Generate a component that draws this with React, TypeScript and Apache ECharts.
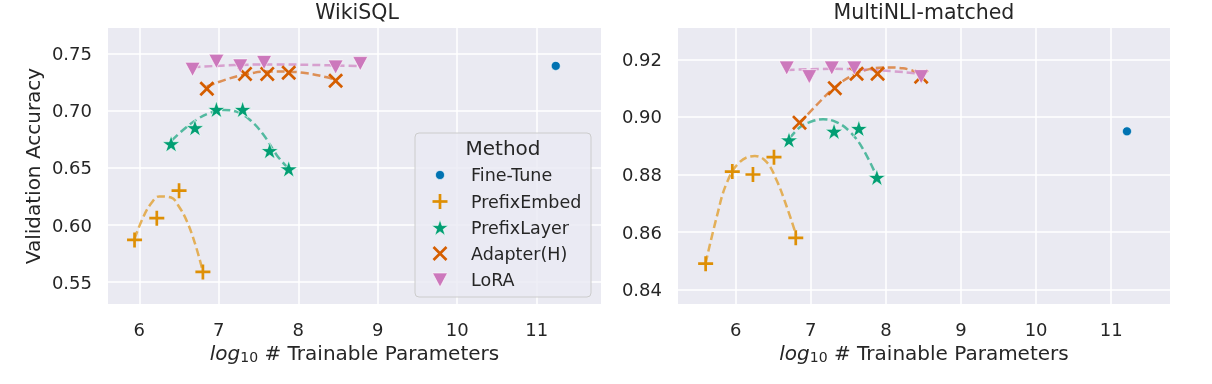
import React, { useEffect, useRef } from "react";
import * as echarts from "echarts";

// ---------- data (log10 #params, accuracy) ----------
const fineTuneWikiX = [11.24];
const fineTuneWikiY = [0.739];
const prefixEmbedWikiX = [5.94, 6.22, 6.5, 6.8];
const prefixEmbedWikiY = [0.587, 0.606, 0.63, 0.559];
const prefixLayerWikiX = [6.4, 6.7, 6.97, 7.3, 7.64, 7.88];
const prefixLayerWikiY = [0.671, 0.685, 0.701, 0.701, 0.665, 0.649];
const adapterWikiX = [6.85, 7.33, 7.61, 7.88, 8.47];
const adapterWikiY = [0.719, 0.732, 0.732, 0.733, 0.726];
const loraWikiX = [6.67, 6.97, 7.27, 7.57, 8.47, 8.78];
const loraWikiY = [0.736, 0.743, 0.739, 0.742, 0.738, 0.741];

const fineTuneMnliX = [11.21];
const fineTuneMnliY = [0.895];
const prefixEmbedMnliX = [5.6, 5.955, 6.23, 6.51, 6.8];
const prefixEmbedMnliY = [0.849, 0.881, 0.88, 0.886, 0.858];
const prefixLayerMnliX = [6.71, 7.31, 7.64, 7.88];
const prefixLayerMnliY = [0.892, 0.895, 0.896, 0.879];
const adapterMnliX = [6.85, 7.32, 7.61, 7.89, 8.47];
const adapterMnliY = [0.898, 0.91, 0.915, 0.915, 0.914];
const loraMnliX = [6.68, 6.98, 7.28, 7.58, 8.47];
const loraMnliY = [0.917, 0.914, 0.917, 0.917, 0.914];

// dashed trend curves
const fitPrefixEmbedWikiX = [5.94, 6.05, 6.15, 6.25, 6.4, 6.5, 6.6, 6.7, 6.79];
const fitPrefixEmbedWikiY = [0.588, 0.607, 0.619, 0.625, 0.624, 0.616, 0.603, 0.584, 0.562];
const fitPrefixLayerWikiX = [6.41, 6.55, 6.72, 6.89, 7.06, 7.22, 7.39, 7.56, 7.73, 7.87];
const fitPrefixLayerWikiY = [0.674, 0.683, 0.692, 0.698, 0.7005, 0.699, 0.692, 0.679, 0.661, 0.6497];
const fitAdapterWikiX = [6.85, 7.1, 7.35, 7.6, 7.85, 8.11, 8.36, 8.47];
const fitAdapterWikiY = [0.721, 0.7273, 0.7317, 0.734, 0.734, 0.7325, 0.729, 0.7267];
const fitLoraWikiX = [6.67, 7.2, 7.7, 8.2, 8.78];
const fitLoraWikiY = [0.7378, 0.7397, 0.7403, 0.7398, 0.7388];

const fitPrefixEmbedMnliX = [5.6, 5.748, 5.88, 6.057, 6.256, 6.41, 6.545, 6.68, 6.805];
const fitPrefixEmbedMnliY = [0.8492, 0.8653, 0.877, 0.8844, 0.8864, 0.8844, 0.878, 0.8688, 0.859];
const fitPrefixLayerMnliX = [6.72, 6.854, 6.987, 7.163, 7.34, 7.52, 7.69, 7.88];
const fitPrefixLayerMnliY = [0.8926, 0.8964, 0.8982, 0.8992, 0.8982, 0.8949, 0.8891, 0.8792];
const fitAdapterMnliX = [6.854, 7.076, 7.32, 7.56, 7.78, 8.0, 8.226, 8.47];
const fitAdapterMnliY = [0.8978, 0.9041, 0.9103, 0.9145, 0.9166, 0.9172, 0.9169, 0.9151];
const fitLoraMnliX = [6.68, 7.3, 7.9, 8.47];
const fitLoraMnliY = [0.9163, 0.9167, 0.9162, 0.915];

const methods = ["Fine-Tune", "PrefixEmbed", "PrefixLayer", "Adapter(H)", "LoRA"];
const titles = ["WikiSQL", "MultiNLI-matched"];

// ---------- styles ----------
const FONT = "DejaVu Sans";
const TEXT = "#262626";
const BG = "#EAEAF2";
const C = {
  ft: "#0173B2",
  pe: "#DE8F05",
  pl: "#029E73",
  ad: "#D55E00",
  lo: "#CC78BC",
};
const PLUS = "path://M8.2,0H11.8V8.2H20V11.8H11.8V20H8.2V11.8H0V8.2H8.2Z";
const CROSS =
  "path://M0,2.55L2.55,0L10,7.45L17.45,0L20,2.55L12.55,10L20,17.45L17.45,20L10,12.55L2.55,20L0,17.45L7.45,10Z";
const STAR =
  "path://M10,0L12.245,6.91L19.51,6.91L13.63,11.18L15.88,18.09L10,13.82L4.12,18.09L6.37,11.18L0.49,6.91L7.755,6.91Z";

const zip = (xs: number[], ys: number[]) => xs.map((x, i) => [x, ys[i]]);

function scatter(name: string, xs: number[], ys: number[], gi: number, symbol: string, size: any, color: string, filled: boolean, rotate = 0) {
  return {
    type: "scatter",
    name,
    xAxisIndex: gi,
    yAxisIndex: gi,
    data: zip(xs, ys),
    symbol,
    symbolSize: size,
    symbolRotate: rotate,
    symbolKeepAspect: true,
    silent: true,
    z: 4,
    itemStyle: {
      color,
      opacity: 1,
      borderColor: filled ? "#ffffff" : "transparent",
      borderWidth: filled ? 0.6 : 0,
    },
  };
}

function fit(name: string, xs: number[], ys: number[], gi: number, color: string) {
  return {
    type: "line",
    name,
    xAxisIndex: gi,
    yAxisIndex: gi,
    data: zip(xs, ys),
    smooth: 0.4,
    symbol: "none",
    silent: true,
    z: 3,
    lineStyle: { color, width: 2.5, type: [8, 4], opacity: 0.65 },
  };
}

const isStep = (v: number, step: number) => Math.abs(v / step - Math.round(v / step)) < 1e-6;

function xAxis(gi: number, min: number, max: number) {
  return {
    type: "value",
    gridIndex: gi,
    min,
    max,
    name: "{i|log}{s|10}{n| # Trainable Parameters}",
    nameLocation: "middle",
    nameGap: 37,
    nameTextStyle: {
      color: TEXT,
      fontFamily: FONT,
      fontSize: 20,
      rich: {
        i: { fontStyle: "italic", fontSize: 20, fontFamily: FONT, color: TEXT },
        s: { fontSize: 14, fontFamily: FONT, color: TEXT, padding: [8, 0, 0, 0] },
        n: { fontSize: 20, fontFamily: FONT, color: TEXT },
      },
    },
    axisLine: { show: false },
    axisTick: { show: false },
    splitLine: { show: true, showMinLine: false, showMaxLine: false, lineStyle: { color: "#ffffff", width: 1.5 } },
    axisLabel: {
      color: TEXT,
      fontFamily: FONT,
      fontSize: 18,
      margin: 16,
      showMinLabel: false,
      showMaxLabel: false,
      formatter: (v: number) => (isStep(v, 1) ? String(Math.round(v)) : ""),
    },
  };
}

function yAxis(gi: number, min: number, max: number, step: number, name?: string) {
  return {
    type: "value",
    gridIndex: gi,
    min,
    max,
    name: name || "",
    nameLocation: "middle",
    nameGap: 65,
    nameTextStyle: { color: TEXT, fontFamily: FONT, fontSize: 20 },
    axisLine: { show: false },
    axisTick: { show: false },
    splitLine: { show: true, showMinLine: false, showMaxLine: false, lineStyle: { color: "#ffffff", width: 1.5 } },
    axisLabel: {
      color: TEXT,
      fontFamily: FONT,
      fontSize: 18,
      margin: 16,
      showMinLabel: false,
      showMaxLabel: false,
      formatter: (v: number) => (isStep(v, step) ? v.toFixed(2) : ""),
    },
  };
}

function starPoints(cx: number, cy: number, r: number) {
  const pts: number[][] = [];
  for (let k = 0; k < 10; k++) {
    const a = Math.PI / 2 + (k * Math.PI) / 5;
    const rr = k % 2 === 0 ? r : r * 0.382;
    pts.push([cx + rr * Math.cos(a), cy - rr * Math.sin(a)]);
  }
  return pts;
}

function legendGraphics() {
  const bx = 415, by = 133, bw = 176, bh = 164;
  const mx = 440, tx = 471;
  const rows = [175, 201.5, 227.5, 253.5, 280];
  const els: any[] = [
    {
      type: "rect",
      shape: { x: bx, y: by, width: bw, height: bh, r: 4 },
      style: { fill: "rgba(234,234,242,0.8)", stroke: "#cccccc", lineWidth: 1 },
      z: 100,
    },
    {
      type: "text",
      x: 503,
      y: 147.5,
      style: {
        text: "Method",
        fill: TEXT,
        fontFamily: FONT,
        fontSize: 20,
        align: "center",
        verticalAlign: "middle",
        textAlign: "center",
        textVerticalAlign: "middle",
      },
      z: 101,
    },
  ];
  methods.forEach((m, i) => {
    els.push({
      type: "text",
      x: tx,
      y: rows[i],
      style: {
        text: m,
        fill: TEXT,
        fontFamily: FONT,
        fontSize: 17.5,
        align: "left",
        verticalAlign: "middle",
        textAlign: "left",
        textVerticalAlign: "middle",
      },
      z: 101,
    });
  });
  const y0 = rows[0], y1 = rows[1], y2 = rows[2], y3 = rows[3], y4 = rows[4];
  els.push({ type: "circle", shape: { cx: mx, cy: y0, r: 4.5 }, style: { fill: C.ft, stroke: "#fff", lineWidth: 0.6 }, z: 101 });
  els.push({ type: "line", shape: { x1: mx - 7.5, y1: y1, x2: mx + 7.5, y2: y1 }, style: { stroke: C.pe, lineWidth: 2.7 }, z: 101 });
  els.push({ type: "line", shape: { x1: mx, y1: y1 - 7.5, x2: mx, y2: y1 + 7.5 }, style: { stroke: C.pe, lineWidth: 2.7 }, z: 101 });
  els.push({ type: "polygon", shape: { points: starPoints(mx, y2 + 0.8, 8.8) }, style: { fill: C.pl, stroke: "#fff", lineWidth: 0.6 }, z: 101 });
  els.push({ type: "line", shape: { x1: mx - 6.5, y1: y3 - 6.5, x2: mx + 6.5, y2: y3 + 6.5 }, style: { stroke: C.ad, lineWidth: 2.7 }, z: 101 });
  els.push({ type: "line", shape: { x1: mx - 6.5, y1: y3 + 6.5, x2: mx + 6.5, y2: y3 - 6.5 }, style: { stroke: C.ad, lineWidth: 2.7 }, z: 101 });
  els.push({
    type: "polygon",
    shape: { points: [[mx - 7.5, y4 - 7], [mx + 7.5, y4 - 7], [mx, y4 + 7]] },
    style: { fill: C.lo, stroke: "#fff", lineWidth: 0.6 },
    z: 101,
  });
  return els;
}

export default function App() {
  const ref = useRef<HTMLDivElement>(null);
  useEffect(() => {
    const chart = echarts.init(ref.current!, null, { renderer: "svg" });
    const option: any = {
      animation: false,
      textStyle: { fontFamily: FONT },
      title: [
        { text: titles[0], left: 357, top: 1, padding: 0, textAlign: "center", textStyle: { fontFamily: FONT, fontSize: 20.5, fontWeight: "normal", color: TEXT } },
        { text: titles[1], left: 924, top: 1, padding: 0, textAlign: "center", textStyle: { fontFamily: FONT, fontSize: 20.5, fontWeight: "normal", color: TEXT } },
      ],
      grid: [
        { left: 108, top: 28, width: 493, height: 276, show: true, backgroundColor: BG, borderWidth: 0 },
        { left: 678, top: 28, width: 492, height: 276, show: true, backgroundColor: BG, borderWidth: 0 },
      ],
      xAxis: [xAxis(0, 5.606, 11.809), xAxis(1, 5.232, 11.783)],
      yAxis: [yAxis(0, 0.531, 0.7721, 0.05, "Validation Accuracy"), yAxis(1, 0.835, 0.9309, 0.02)],
      series: [
        fit("PrefixEmbed fit W", fitPrefixEmbedWikiX, fitPrefixEmbedWikiY, 0, C.pe),
        fit("PrefixLayer fit W", fitPrefixLayerWikiX, fitPrefixLayerWikiY, 0, C.pl),
        fit("Adapter fit W", fitAdapterWikiX, fitAdapterWikiY, 0, C.ad),
        fit("LoRA fit W", fitLoraWikiX, fitLoraWikiY, 0, C.lo),
        fit("PrefixEmbed fit M", fitPrefixEmbedMnliX, fitPrefixEmbedMnliY, 1, C.pe),
        fit("PrefixLayer fit M", fitPrefixLayerMnliX, fitPrefixLayerMnliY, 1, C.pl),
        fit("Adapter fit M", fitAdapterMnliX, fitAdapterMnliY, 1, C.ad),
        fit("LoRA fit M", fitLoraMnliX, fitLoraMnliY, 1, C.lo),

        scatter(methods[0], fineTuneWikiX, fineTuneWikiY, 0, "circle", 9, C.ft, true),
        scatter(methods[1], prefixEmbedWikiX, prefixEmbedWikiY, 0, PLUS, 15, C.pe, false),
        scatter(methods[2], prefixLayerWikiX, prefixLayerWikiY, 0, STAR, 17.5, C.pl, true),
        scatter(methods[3], adapterWikiX, adapterWikiY, 0, CROSS, 15, C.ad, false),
        scatter(methods[4], loraWikiX, loraWikiY, 0, "triangle", [15, 14], C.lo, true, 180),

        scatter(methods[0], fineTuneMnliX, fineTuneMnliY, 1, "circle", 9, C.ft, true),
        scatter(methods[1], prefixEmbedMnliX, prefixEmbedMnliY, 1, PLUS, 15, C.pe, false),
        scatter(methods[2], prefixLayerMnliX, prefixLayerMnliY, 1, STAR, 17.5, C.pl, true),
        scatter(methods[3], adapterMnliX, adapterMnliY, 1, CROSS, 15, C.ad, false),
        scatter(methods[4], loraMnliX, loraMnliY, 1, "triangle", [15, 14], C.lo, true, 180),
      ],
      graphic: legendGraphics(),
    };
    chart.setOption(option);
    return () => chart.dispose();
  }, []);
  return <div ref={ref} style={{ position: "fixed", left: 0, top: 0, width: 1212, height: 384 }} />;
}
